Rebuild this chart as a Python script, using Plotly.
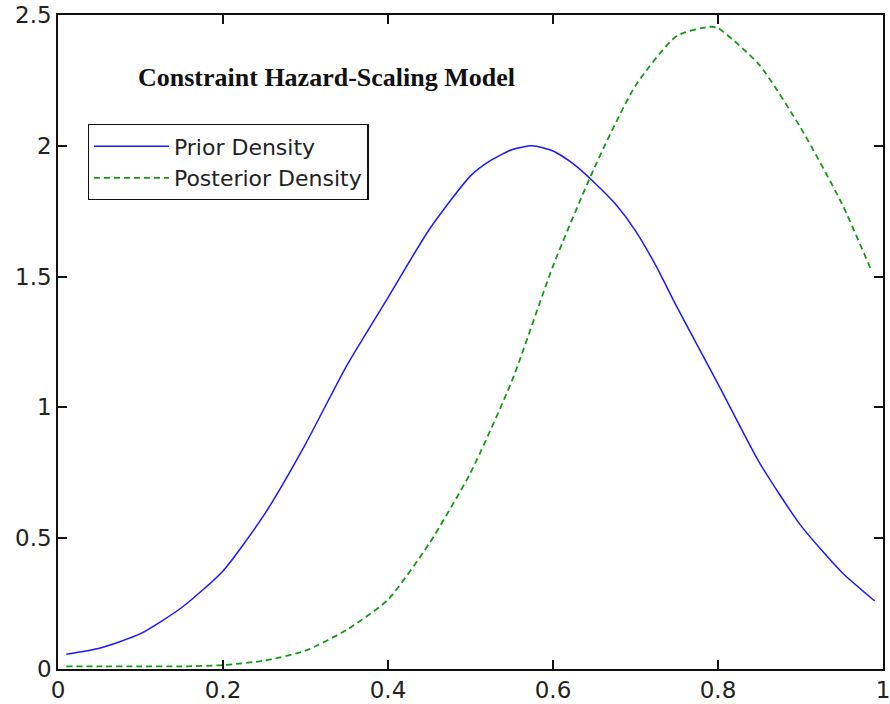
import plotly.graph_objects as go

# Prior density curve
prior_x = [0.01, 0.05, 0.10, 0.15, 0.20, 0.25, 0.30, 0.35, 0.40, 0.45, 0.50,
           0.525, 0.55, 0.575, 0.60, 0.625, 0.65, 0.675, 0.70, 0.725, 0.75,
           0.80, 0.85, 0.90, 0.95, 0.99]
prior_y = [0.056, 0.079, 0.135, 0.235, 0.375, 0.59, 0.86, 1.16, 1.42, 1.68, 1.885,
           1.945, 1.985, 2.0, 1.98, 1.93, 1.86, 1.78, 1.675, 1.54, 1.385,
           1.09, 0.79, 0.55, 0.37, 0.26]

# Posterior density curve
post_x = [0.01, 0.05, 0.10, 0.15, 0.20, 0.25, 0.30, 0.35, 0.40, 0.45, 0.50,
          0.55, 0.60, 0.65, 0.70, 0.75, 0.79, 0.80, 0.85, 0.90, 0.95, 0.985]
post_y = [0.01, 0.01, 0.01, 0.01, 0.015, 0.032, 0.07, 0.15, 0.265, 0.48, 0.75,
          1.10, 1.54, 1.915, 2.23, 2.42, 2.455, 2.45, 2.31, 2.07, 1.78, 1.53]

x_ticks = [0, 0.2, 0.4, 0.6, 0.8, 1]
y_ticks = [0, 0.5, 1, 1.5, 2, 2.5]

fig = go.Figure()
fig.add_trace(go.Scatter(
    x=prior_x, y=prior_y, mode="lines", name="Prior Density",
    line=dict(color="#1a1aff", width=1.5, shape="spline", smoothing=0.6),
))
fig.add_trace(go.Scatter(
    x=post_x, y=post_y, mode="lines", name="Posterior Density",
    line=dict(color="#139a13", width=1.8, dash="6px,4px", shape="spline", smoothing=0.6),
))

axis_common = dict(
    showgrid=False, zeroline=False,
    showline=True, linecolor="#111", linewidth=1.5, mirror="ticks",
    ticks="inside", ticklen=9, tickwidth=1.5, tickcolor="#111",
    tickfont=dict(family="DejaVu Sans", size=23, color="#222"),
    ticklabeloverflow="allow",
)

fig.update_xaxes(range=[0, 1], tickvals=x_ticks,
                 ticktext=[f"{v:g}" for v in x_ticks], **axis_common)
fig.update_yaxes(range=[0, 2.5], tickvals=y_ticks,
                 ticktext=[f"{v:g}" for v in y_ticks], **axis_common)

fig.add_annotation(
    x=0.326, y=0.905, xref="paper", yref="paper",
    xanchor="center", yanchor="middle",
    text="<b>Constraint Hazard-Scaling Model</b>", showarrow=False,
    font=dict(family="Liberation Serif", size=26, color="#111"),
)

fig.update_layout(
    width=890, height=704, autosize=False,
    margin=dict(l=58, r=0, t=15, b=35),
    plot_bgcolor="white", paper_bgcolor="white",
    legend=dict(
        x=0.036, y=0.833, xanchor="left", yanchor="top",
        bgcolor="white", bordercolor="#111", borderwidth=1.2,
        font=dict(family="DejaVu Sans", size=22, color="#222"),
        itemwidth=75, tracegroupgap=0,
    ),
    showlegend=True,
)

fig.write_html("out.html")
